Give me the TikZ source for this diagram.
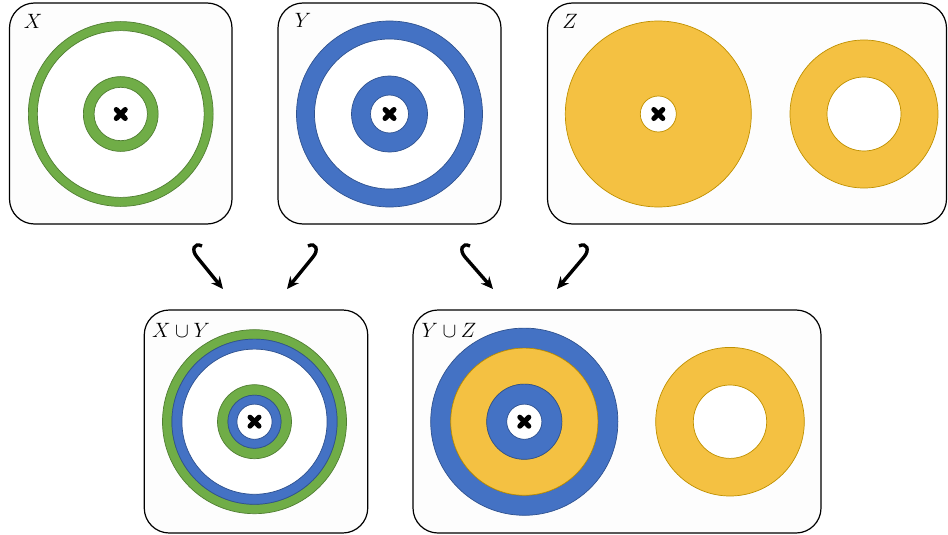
\documentclass[tikz,border=0pt]{standalone}
\usetikzlibrary{arrows.meta,calc}
\definecolor{gfill}{HTML}{70AD47}
\definecolor{gedge}{HTML}{507E32}
\definecolor{bfill}{HTML}{4472C4}
\definecolor{bedge}{HTML}{2F528F}
\definecolor{yfill}{HTML}{F4C142}
\definecolor{yedge}{HTML}{BF9000}
\definecolor{panelbg}{HTML}{FDFDFD}
\tikzset{
  panel/.style={draw=black, line width=1.2pt, fill=panelbg, rounded corners=25pt, inner sep=0pt},
  gring/.style={fill=gfill, draw=gedge, line width=0.7pt, even odd rule},
  bring/.style={fill=bfill, draw=bedge, line width=0.7pt, even odd rule},
  yring/.style={fill=yfill, draw=yedge, line width=0.7pt, even odd rule},
  hole/.style={fill=white},
  lbl/.style={font=\fontsize{19.5}{22}\selectfont, inner sep=0pt},
  crossline/.style={line width=5pt, line cap=round},
  arr/.style={line width=3.4pt, -{Stealth[length=12pt,width=11pt]}},
}
\newcommand\crossmark[1]{%
  \draw[crossline] ($(#1)+(-4.5pt,-4.5pt)$) -- ($(#1)+(4.5pt,4.5pt)$);
  \draw[crossline] ($(#1)+(-4.5pt,4.5pt)$) -- ($(#1)+(4.5pt,-4.5pt)$);}
\begin{document}
\begin{tikzpicture}[x=1pt,y=-1pt]
\useasboundingbox (0,0) rectangle (948,535);
% panels
\node[panel, minimum width=222.5pt, minimum height=221pt] (PX) at (120.75,113.5) {};
\node[panel, minimum width=223pt, minimum height=221pt] (PY) at (389.5,113.5) {};
\node[panel, minimum width=399pt, minimum height=221pt] (PZ) at (747,113.5) {};
\node[panel, minimum width=223.5pt, minimum height=223pt] (PXY) at (256,421.5) {};
\node[panel, minimum width=408pt, minimum height=223pt] (PYZ) at (617,421.5) {};
% labels
\node[lbl] (LX) at (33,21) {$X$};
\node[lbl] (LY) at (303,20) {$Y$};
\node[lbl] (LZ) at (570,21) {$Z$};
\node[lbl] (LXY) at (181,330) {$X\cup Y$};
\node[lbl] (LYZ) at (449,330) {$Y\cup Z$};
% centers
\coordinate (cX) at (120.75,114);
\coordinate (cY) at (389.5,114);
\coordinate (cZ1) at (658.3,114);
\coordinate (cZ2) at (864,114);
\coordinate (cXY) at (254.5,421.7);
\coordinate (cYZ1) at (524.3,421.7);
\coordinate (cYZ2) at (730,421.7);
% white interiors
\fill[hole] (cX) circle[radius=92pt];
\fill[hole] (cY) circle[radius=92pt];
\fill[hole] (cZ1) circle[radius=20pt];
\fill[hole] (cZ2) circle[radius=38pt];
\fill[hole] (cXY) circle[radius=90pt];
\fill[hole] (cYZ1) circle[radius=19pt];
\fill[hole] (cYZ2) circle[radius=38pt];
% X
\path[gring] (cX) circle[radius=92.4pt] (cX) circle[radius=83.4pt];
\path[gring] (cX) circle[radius=37.4pt] (cX) circle[radius=26.7pt];
\crossmark{cX}
% Y
\path[bring] (cY) circle[radius=93pt] (cY) circle[radius=75pt];
\path[bring] (cY) circle[radius=38pt] (cY) circle[radius=19pt];
\crossmark{cY}
% Z
\path[yring] (cZ1) circle[radius=93pt] (cZ1) circle[radius=18pt];
\crossmark{cZ1}
\path[yring] (cZ2) circle[radius=74pt] (cZ2) circle[radius=37pt];
% X u Y
\path[gring] (cXY) circle[radius=92pt] (cXY) circle[radius=82.6pt];
\path[bring] (cXY) circle[radius=82.6pt] (cXY) circle[radius=72.6pt];
\path[gring] (cXY) circle[radius=37pt] (cXY) circle[radius=26.6pt];
\path[bring] (cXY) circle[radius=26.6pt] (cXY) circle[radius=17.6pt];
\crossmark{cXY}
% Y u Z
\path[bring] (cYZ1) circle[radius=93.6pt] (cYZ1) circle[radius=73.6pt];
\path[yring] (cYZ1) circle[radius=73.6pt] (cYZ1) circle[radius=37.6pt];
\path[bring] (cYZ1) circle[radius=37.6pt] (cYZ1) circle[radius=17.6pt];
\crossmark{cYZ1}
\path[yring] (cYZ2) circle[radius=74.3pt] (cYZ2) circle[radius=36.7pt];
% arrows
\coordinate (a1s) at (202,246); \coordinate (a1e) at (223,289);
\coordinate (a2s) at (308,246); \coordinate (a2e) at (287,289);
\coordinate (a3s) at (470,246); \coordinate (a3e) at (493,289);
\coordinate (a4s) at (579,246); \coordinate (a4e) at (557,289);
\draw[arr] (a1s) .. controls (194,242) and (191,250) .. (197,257) -- (a1e);
\draw[arr] (a2s) .. controls (316,242) and (319,250) .. (313,257) -- (a2e);
\draw[arr] (a3s) .. controls (462,242) and (459,250) .. (465,257) -- (a3e);
\draw[arr] (a4s) .. controls (587,242) and (590,250) .. (584,257) -- (a4e);
\end{tikzpicture}
\end{document}
